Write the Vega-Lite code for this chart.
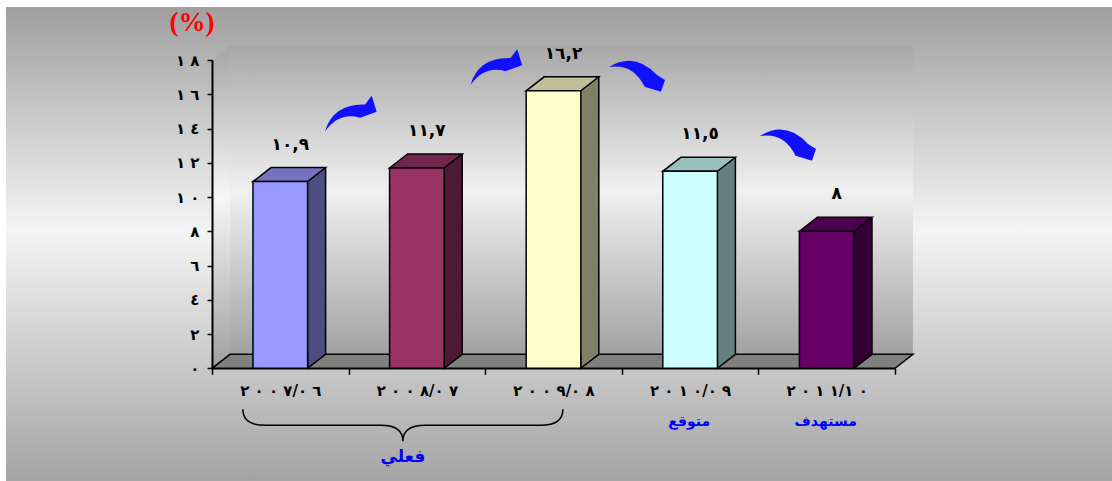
{
  "$schema": "https://vega.github.io/schema/vega-lite/v6.json",
  "width": 683,
  "height": 308.3,
  "autosize": "none",
  "padding": {"left": 212, "top": 60, "right": 217, "bottom": 112.7},
  "background": "white",
  "config": {
    "view": {"stroke": null, "fill": null},
    "locale": {"number": {"decimal": ",", "thousands": ".", "grouping": [3], "currency": ["", ""],
      "numerals": ["٠", "١", "٢", "٣", "٤", "٥", "٦", "٧", "٨", "٩"]}},
    "font": "DejaVu Sans"
  },
  "datasets": {
    "bars": [
      {"period": "٢٠٠٧/٠٦", "value": 10.9, "status": "فعلي"},
      {"period": "٢٠٠٨/٠٧", "value": 11.7, "status": "فعلي"},
      {"period": "٢٠٠٩/٠٨", "value": 16.2, "status": "فعلي"},
      {"period": "٢٠١٠/٠٩", "value": 11.5, "status": "متوقع"},
      {"period": "٢٠١١/١٠", "value": 8, "status": "مستهدف"}
    ]
  },
  "data": {"name": "bars"},
  "resolve": {"scale": {"color": "independent"}},
  "layer": [
    {
      "transform": [{"filter": "datum.period == '٢٠٠٧/٠٦'"}],
      "mark": {"type": "point", "shape": "M -206 112.7 L 900 112.7 L 900 -361.3 L -206 -361.3 Z", "size": 4, "filled": true, "opacity": 1, "strokeWidth": 0,
        "fill": {"gradient": "linear", "x1": 0, "y1": 0, "x2": 0, "y2": 1,
          "stops": [{"offset": 0, "color": "#9f9f9f"}, {"offset": 0.47, "color": "#f4f4f4"}, {"offset": 1, "color": "#a4a4a4"}]}},
      "encoding": {
        "x": {"field": "period", "type": "nominal", "sort": null, "bandPosition": 0,
          "scale": {"type": "band", "paddingInner": 0, "paddingOuter": 0},
          "axis": {"title": null, "tickBand": "extent", "zindex": 1, "grid": false, "labelOverlap": false,
            "domainColor": "black", "domainWidth": 1.5, "tickColor": "black", "tickWidth": 1.5, "tickSize": 6,
            "labelPadding": 9, "labelAngle": 0, "labelFont": "DejaVu Sans", "labelFontWeight": "bold", "labelFontSize": 15, "labelColor": "black",
            "labelExpr": "replace(datum.label, /([٠-٩])(?=[٠-٩])/g, '$1\u00a0')"}},
        "y": {"datum": 0, "type": "quantitative",
          "scale": {"domain": [0, 18], "nice": false, "zero": true},
          "axis": {"title": "(%)", "values": [0, 2, 4, 6, 8, 10, 12, 14, 16, 18], "tickCount": 20, "zindex": 1, "grid": false, "labelOverlap": false,
            "domainColor": "black", "domainWidth": 2, "tickColor": "black", "tickWidth": 1.5, "tickSize": 5,
            "labelPadding": 8, "labelFont": "DejaVu Sans", "labelFontWeight": "bold", "labelFontSize": 15, "labelColor": "black",
            "labelExpr": "replace(datum.label, /([٠-٩])(?=[٠-٩])/g, '$1\u00a0')",
            "titleAngle": 0, "titleX": -20.5, "titleY": -37.5, "titleAlign": "center", "titleBaseline": "middle",
            "titleFont": "Liberation Serif", "titleFontSize": 27, "titleFontWeight": "bold", "titleColor": "#ff0000"}}
      }
    },
    {
      "transform": [{"filter": "datum.period == '٢٠٠٧/٠٦'"}],
      "mark": {"type": "point", "shape": "M 0 0 L 0 -308.3 L 18 -322.3 L 18 -14 Z", "size": 4, "filled": true, "opacity": 1, "strokeWidth": 0,
        "fill": {"gradient": "linear", "x1": 0, "y1": 0, "x2": 0, "y2": 1,
          "stops": [{"offset": 0, "color": "#a6a6a6"}, {"offset": 0.47, "color": "#f6f6f6"}, {"offset": 1, "color": "#a0a0a0"}]}},
      "encoding": {
        "x": {"field": "period", "type": "nominal", "sort": null, "bandPosition": 0},
        "y": {"datum": 0, "type": "quantitative"}
      }
    },
    {
      "transform": [{"filter": "datum.period == '٢٠٠٧/٠٦'"}],
      "mark": {"type": "point", "shape": "M 18 -14 L 701 -14 L 701 -322.3 L 18 -322.3 Z", "size": 4, "filled": true, "opacity": 1, "strokeWidth": 0,
        "fill": {"gradient": "linear", "x1": 0, "y1": 0, "x2": 0, "y2": 1,
          "stops": [{"offset": 0, "color": "#a8a8a8"}, {"offset": 0.47, "color": "#f0f0f0"}, {"offset": 1, "color": "#a2a2a2"}]}},
      "encoding": {
        "x": {"field": "period", "type": "nominal", "sort": null, "bandPosition": 0},
        "y": {"datum": 0, "type": "quantitative"}
      }
    },
    {
      "transform": [{"filter": "datum.period == '٢٠٠٧/٠٦'"}],
      "mark": {"type": "point", "shape": "M 0 0 L 683 0 L 701 -14 L 18 -14 Z", "size": 4, "filled": true, "opacity": 1,
        "fill": "#808080", "stroke": "black", "strokeWidth": 1.5},
      "encoding": {
        "x": {"field": "period", "type": "nominal", "sort": null, "bandPosition": 0},
        "y": {"datum": 0, "type": "quantitative"}
      }
    },
    {
      "mark": {"type": "bar", "width": 18, "xOffset": 36.3, "yOffset": -14, "y2Offset": -14, "opacity": 1, "strokeWidth": 0},
      "encoding": {
        "x": {"field": "period", "type": "nominal", "sort": null},
        "y": {"field": "value", "type": "quantitative"},
        "y2": {"datum": 0},
        "color": {"field": "period", "type": "nominal", "sort": null, "legend": null,
          "scale": {"domain": ["٢٠٠٧/٠٦", "٢٠٠٨/٠٧", "٢٠٠٩/٠٨", "٢٠١٠/٠٩", "٢٠١١/١٠"],
            "range": ["#4d4d80", "#4d1a33", "#808066", "#668080", "#330033"]}}
      }
    },
    {
      "mark": {"type": "point", "shape": "M 0 -15 L 0 0 L 18 -14", "size": 4, "filled": true, "opacity": 1,
        "xOffset": 27.3, "stroke": "black", "strokeWidth": 1.5},
      "encoding": {
        "x": {"field": "period", "type": "nominal", "sort": null},
        "y": {"datum": 0, "type": "quantitative"},
        "color": {"field": "period", "type": "nominal", "sort": null, "legend": null,
          "scale": {"domain": ["٢٠٠٧/٠٦", "٢٠٠٨/٠٧", "٢٠٠٩/٠٨", "٢٠١٠/٠٩", "٢٠١١/١٠"],
            "range": ["#4d4d80", "#4d1a33", "#808066", "#668080", "#330033"]}}
      }
    },
    {
      "mark": {"type": "point", "shape": "M -27.3 0 L 27.3 0 L 45.3 -14 L -9.3 -14 Z", "size": 4, "filled": true, "opacity": 1,
        "stroke": "black", "strokeWidth": 1.5},
      "encoding": {
        "x": {"field": "period", "type": "nominal", "sort": null},
        "y": {"field": "value", "type": "quantitative"},
        "color": {"field": "period", "type": "nominal", "sort": null, "legend": null,
          "scale": {"domain": ["٢٠٠٧/٠٦", "٢٠٠٨/٠٧", "٢٠٠٩/٠٨", "٢٠١٠/٠٩", "٢٠١١/١٠"],
            "range": ["#7373bf", "#73264d", "#bfbf99", "#99bfbf", "#4d004d"]}}
      }
    },
    {
      "mark": {"type": "bar", "width": {"band": 0.4}, "stroke": "black", "strokeWidth": 1.5, "opacity": 1},
      "encoding": {
        "x": {"field": "period", "type": "nominal", "sort": null},
        "y": {"field": "value", "type": "quantitative"},
        "color": {"field": "period", "type": "nominal", "sort": null, "legend": null,
          "scale": {"domain": ["٢٠٠٧/٠٦", "٢٠٠٨/٠٧", "٢٠٠٩/٠٨", "٢٠١٠/٠٩", "٢٠١١/١٠"],
            "range": ["#9999ff", "#993366", "#ffffcc", "#ccffff", "#660066"]}}
      }
    },
    {
      "mark": {"type": "rule", "xOffset": 45.3, "yOffset": -14, "y2Offset": -14, "color": "black", "strokeWidth": 1.5},
      "encoding": {
        "x": {"field": "period", "type": "nominal", "sort": null},
        "y": {"field": "value", "type": "quantitative"},
        "y2": {"datum": 0}
      }
    },
    {
      "mark": {"type": "text", "xOffset": 10, "yOffset": -37, "baseline": "middle", "align": "center",
        "font": "DejaVu Sans", "fontWeight": "bold", "fontSize": 17, "color": "black"},
      "encoding": {
        "x": {"field": "period", "type": "nominal", "sort": null},
        "y": {"field": "value", "type": "quantitative"},
        "text": {"field": "value", "type": "quantitative", "format": ".1~f"}
      }
    },
    {
      "transform": [{"filter": "datum.period == '٢٠٠٨/٠٧'"}],
      "mark": {"type": "point", "shape": "M -26 18 Q -18 -10 14 -9 L 20.7 -17.8 L 25.7 -1.8 L 9 4.2 Q -12 -2 -26 18 Z",
        "size": 4, "filled": true, "opacity": 1, "fill": "#1010ff", "strokeWidth": 0, "xOffset": 2.4, "yOffset": -54.4},
      "encoding": {
        "x": {"field": "period", "type": "nominal", "sort": null, "bandPosition": 0},
        "y": {"field": "value", "type": "quantitative"}
      }
    },
    {
      "transform": [{"filter": "datum.period == '٢٠٠٩/٠٨'"}],
      "mark": {"type": "point", "shape": "M -26 18 Q -18 -10 14 -9 L 20.7 -17.8 L 25.7 -1.8 L 9 4.2 Q -12 -2 -26 18 Z",
        "size": 4, "filled": true, "opacity": 1, "fill": "#1010ff", "strokeWidth": 0, "xOffset": 11.3, "yOffset": -23.8},
      "encoding": {
        "x": {"field": "period", "type": "nominal", "sort": null, "bandPosition": 0},
        "y": {"field": "value", "type": "quantitative"}
      }
    },
    {
      "transform": [{"filter": "datum.period == '٢٠١٠/٠٩'"}],
      "mark": {"type": "point", "shape": "M -28 -10 Q -2 -26 20 -2 L 28 3 L 24 14.7 L 7.6 9.7 Q -4 -14 -28 -10 Z",
        "size": 4, "filled": true, "opacity": 1, "fill": "#1010ff", "strokeWidth": 0, "xOffset": 15.2, "yOffset": -94.3},
      "encoding": {
        "x": {"field": "period", "type": "nominal", "sort": null, "bandPosition": 0},
        "y": {"field": "value", "type": "quantitative"}
      }
    },
    {
      "transform": [{"filter": "datum.period == '٢٠١١/١٠'"}],
      "mark": {"type": "point", "shape": "M -28 -10 Q -2 -26 20 -2 L 28 3 L 24 14.7 L 7.6 9.7 Q -4 -14 -28 -10 Z",
        "size": 4, "filled": true, "opacity": 1, "fill": "#1010ff", "strokeWidth": 0, "xOffset": 29.6, "yOffset": -85.3},
      "encoding": {
        "x": {"field": "period", "type": "nominal", "sort": null, "bandPosition": 0},
        "y": {"field": "value", "type": "quantitative"}
      }
    },
    {
      "transform": [{"filter": "datum.period == '٢٠٠٨/٠٧'"}],
      "mark": {"type": "point", "shape": "M -160 -16 Q -160 0 -138 0 L -22 0 Q 0 0 0 16 Q 0 0 22 0 L 138 0 Q 160 0 160 -16",
        "size": 4, "filled": false, "opacity": 1, "stroke": "black", "strokeWidth": 1.5, "xOffset": -14, "yOffset": 57},
      "encoding": {
        "x": {"field": "period", "type": "nominal", "sort": null},
        "y": {"datum": 0, "type": "quantitative"}
      }
    },
    {
      "transform": [{"filter": "datum.period == '٢٠٠٨/٠٧'"}],
      "mark": {"type": "text", "xOffset": -14, "yOffset": 89, "baseline": "middle", "align": "center",
        "font": "DejaVu Sans", "fontWeight": "bold", "fontSize": 17, "color": "#0000ff"},
      "encoding": {
        "x": {"field": "period", "type": "nominal", "sort": null},
        "y": {"datum": 0, "type": "quantitative"},
        "text": {"field": "status", "type": "nominal"}
      }
    },
    {
      "transform": [{"filter": "datum.status != 'فعلي'"}],
      "mark": {"type": "text", "xOffset": -1, "yOffset": 54, "baseline": "middle", "align": "center",
        "font": "DejaVu Sans", "fontWeight": "bold", "fontSize": 14, "color": "#0000ff"},
      "encoding": {
        "x": {"field": "period", "type": "nominal", "sort": null},
        "y": {"datum": 0, "type": "quantitative"},
        "text": {"field": "status", "type": "nominal"}
      }
    }
  ]
}
